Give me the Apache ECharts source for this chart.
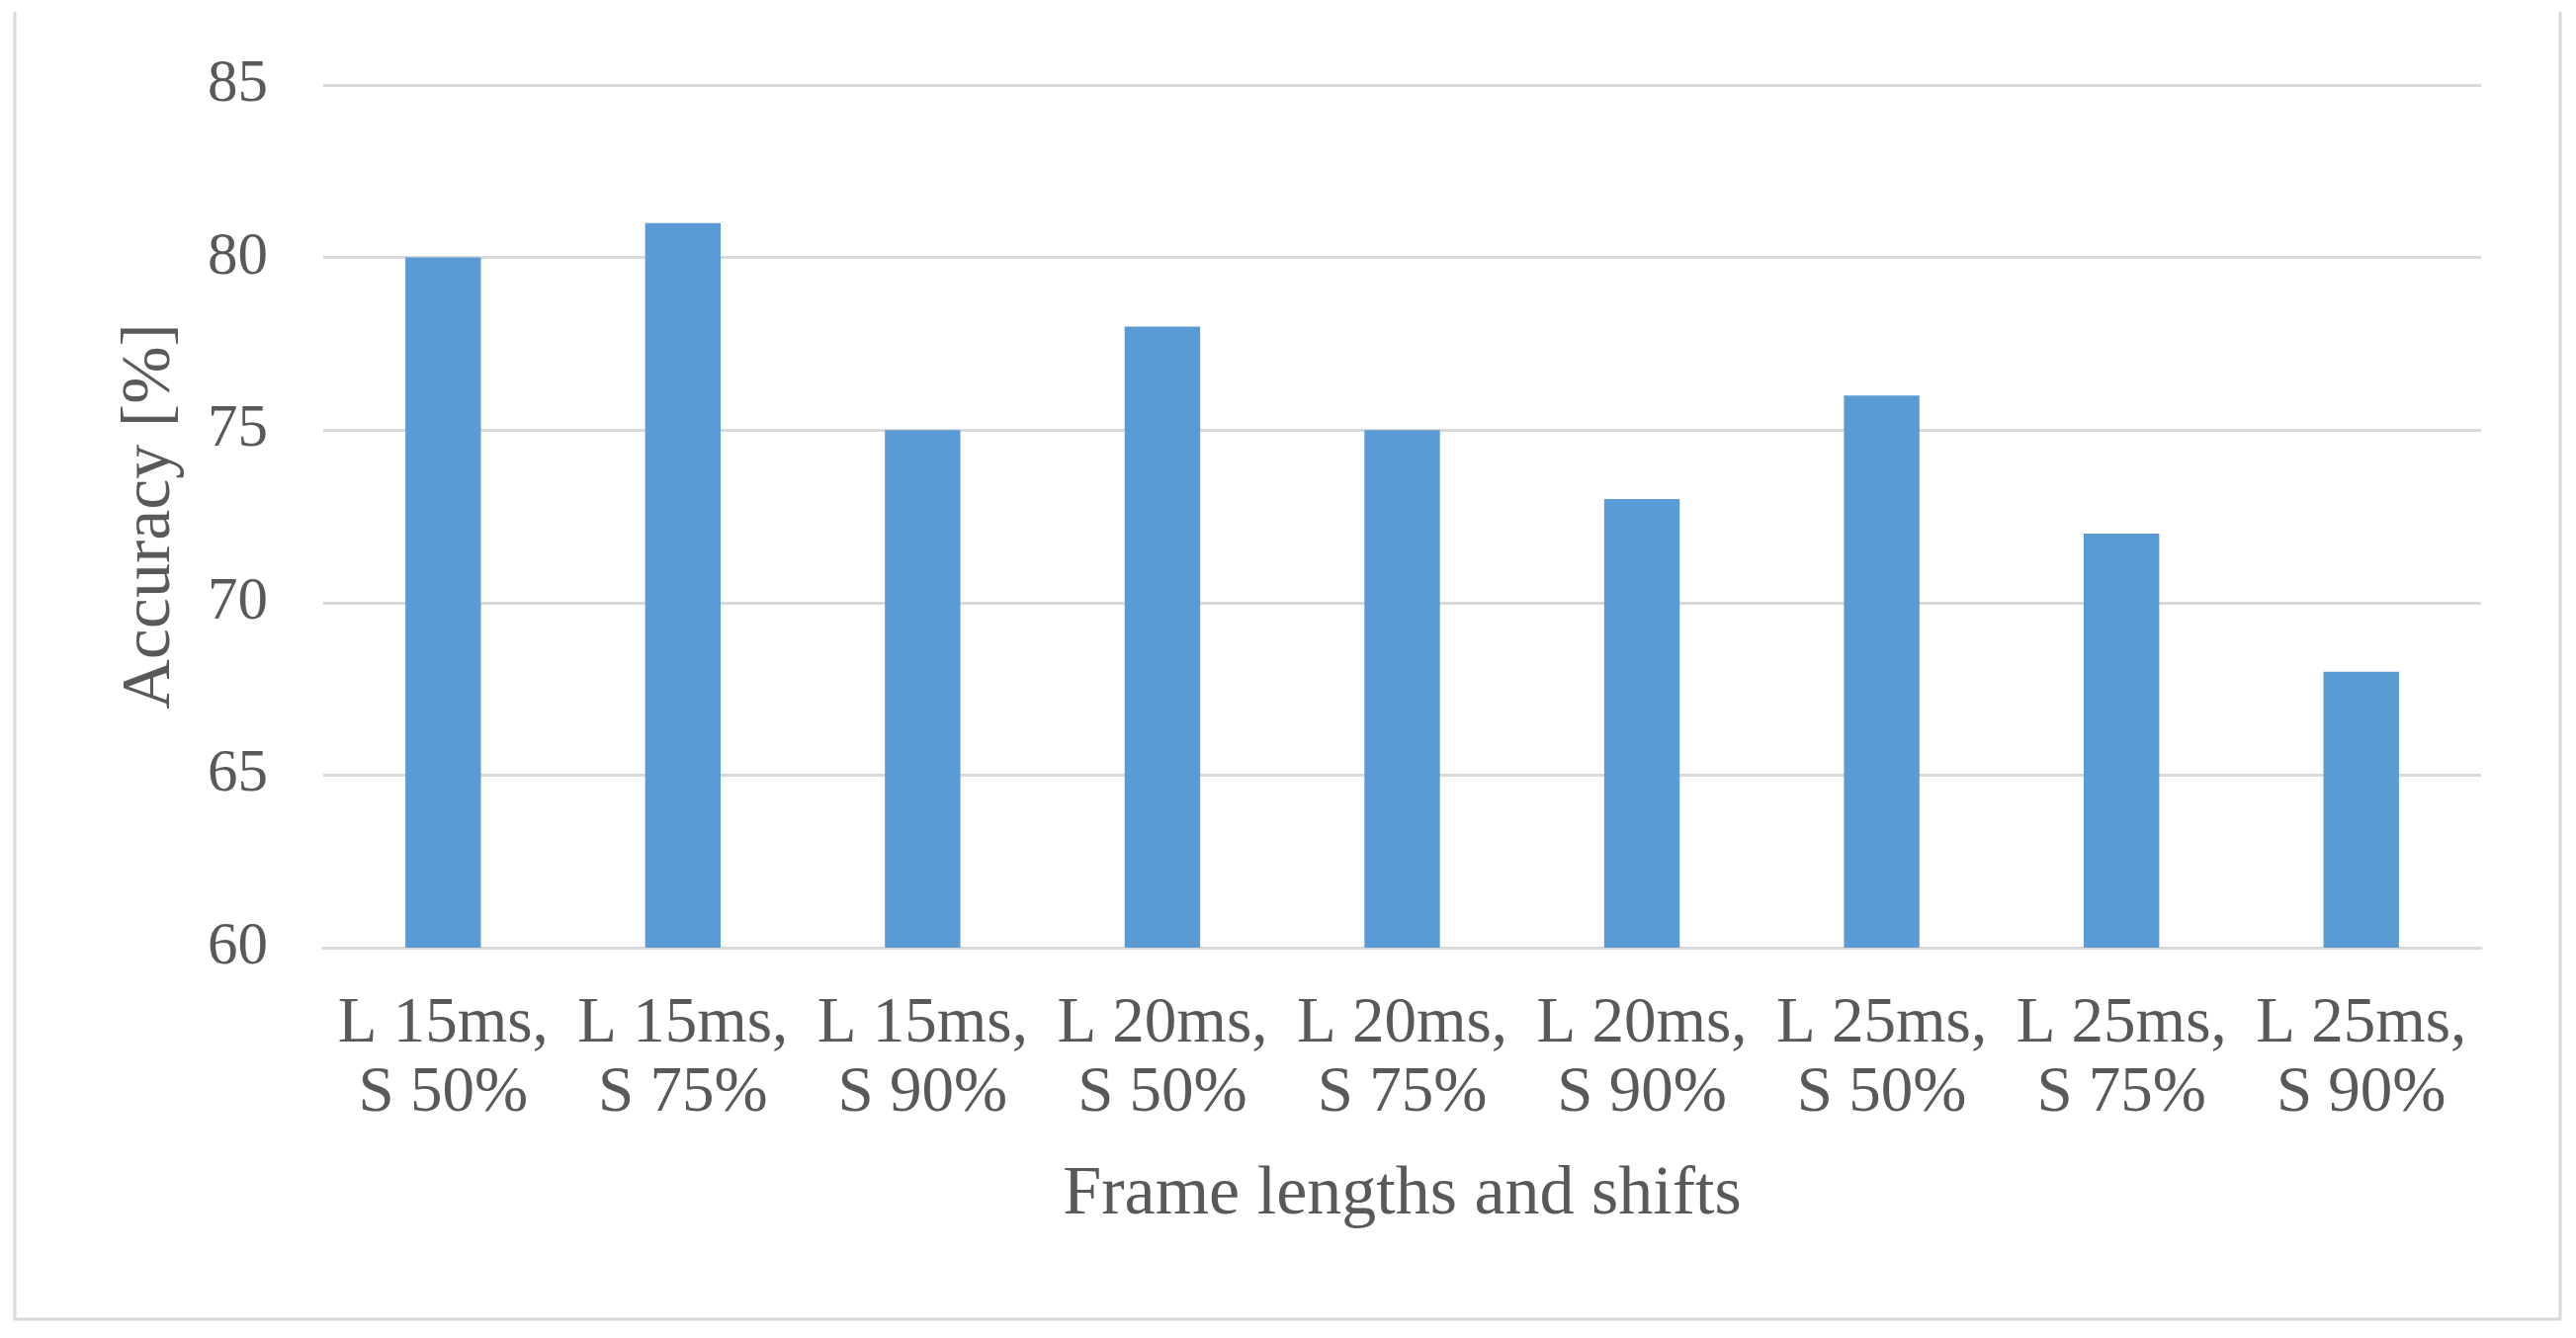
<!DOCTYPE html>
<html>
<head>
<meta charset="utf-8">
<script src="https://cdn.jsdelivr.net/npm/echarts@6/dist/echarts.min.js"></script>
<style>
html,body{margin:0;padding:0;background:#fff;}
#chart{width:2606px;height:1354px;}
</style>
</head>
<body>
<div id="chart"></div>
<script>
const categories = [
  'L 15ms,\nS 50%', 'L 15ms,\nS 75%', 'L 15ms,\nS 90%',
  'L 20ms,\nS 50%', 'L 20ms,\nS 75%', 'L 20ms,\nS 90%',
  'L 25ms,\nS 50%', 'L 25ms,\nS 75%', 'L 25ms,\nS 90%'
];
const accuracy = [80, 81, 75, 78, 75, 73, 76, 72, 68];
const yTicks = { min: 60, max: 85, interval: 5 };
const xTitle = 'Frame lengths and shifts';
const yTitle = 'Accuracy [%]';

const FONT = '"Liberation Serif", "DejaVu Serif", serif';
const TEXT = '#595959';
const GRID = '#d9d9d9';

const chart = echarts.init(document.getElementById('chart'));
chart.setOption({
  backgroundColor: '#ffffff',
  animation: false,
  graphic: [{
    type: 'polyline',
    shape: { points: [[15, 12], [15, 1335], [2590, 1335], [2590, 12]] },
    style: { fill: 'none', stroke: GRID, lineWidth: 3 },
    silent: true
  }],
  grid: { left: 327, right: 96, top: 86, bottom: 395, containLabel: false },
  xAxis: {
    type: 'category',
    data: categories,
    name: xTitle,
    nameLocation: 'middle',
    nameGap: 216,
    nameTextStyle: { fontFamily: FONT, fontSize: 70, color: TEXT },
    axisLine: { show: true, lineStyle: { color: GRID, width: 3 } },
    axisTick: { show: false },
    axisLabel: {
      fontFamily: FONT, fontSize: 65, color: TEXT, lineHeight: 70,
      margin: 43, interval: 0
    }
  },
  yAxis: {
    type: 'value',
    min: yTicks.min, max: yTicks.max, interval: yTicks.interval,
    name: yTitle,
    nameLocation: 'middle',
    nameGap: 139,
    nameTextStyle: { fontFamily: FONT, fontSize: 70, color: TEXT },
    axisLine: { show: false },
    axisTick: { show: false },
    axisLabel: { fontFamily: FONT, fontSize: 61, color: TEXT, margin: 56 },
    splitLine: { show: true, lineStyle: { color: GRID, width: 3 } }
  },
  series: [{
    type: 'bar',
    data: accuracy,
    barWidth: '31.5%',
    itemStyle: { color: '#5b9bd5' }
  }]
});
</script>
</body>
</html>
